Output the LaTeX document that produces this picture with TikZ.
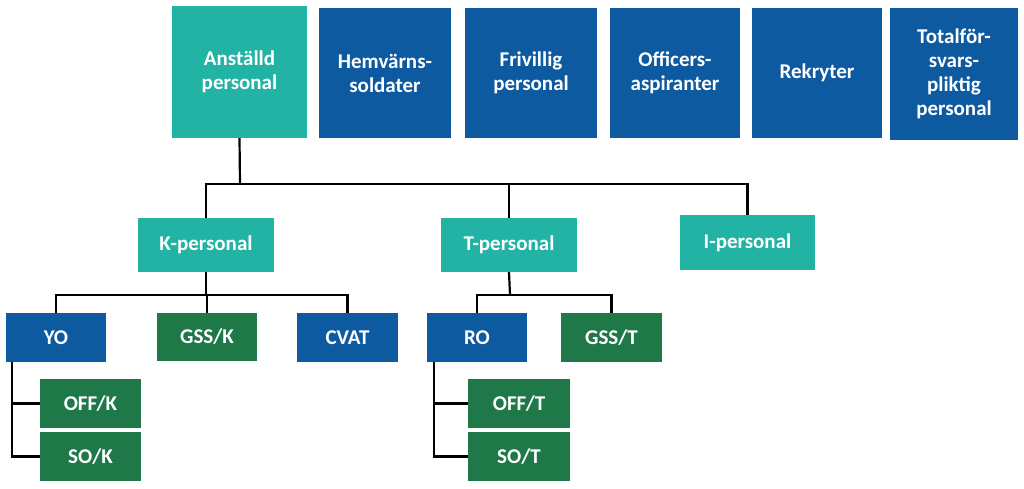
\documentclass[tikz,border=0pt]{standalone}
\usepackage{fontspec}
\setmainfont{Carlito}
\begin{document}
\begin{tikzpicture}[x=1pt,y=-1pt,
 bx/.style={draw=none,text=white,font=\bfseries\fontsize{21}{24}\selectfont,align=center,inner sep=0pt},
 teal/.style={bx,fill=tealc},
 blue/.style={bx,fill=bluec},
 green/.style={bx,fill=greenc},
 ln/.style={draw=black,line width=2.2pt}]
\definecolor{tealc}{HTML}{22B3A4}
\definecolor{bluec}{HTML}{0E5AA0}
\definecolor{greenc}{HTML}{1E7848}
\useasboundingbox (0,0) rectangle (1024,489);
\newcommand{\bxx}[7]{\node[#1,minimum width=#4-#2,minimum height=#5-#3] (#6) at ({(#2+#4)/2},{(#3+#5)/2}) {#7};}
\bxx{teal}{172}{6}{307}{138}{anst}{Anställd\\personal}
\bxx{blue}{319}{8}{451}{138}{hv}{Hemvärns-\\soldater}
\bxx{blue}{465}{8}{597}{138}{fr}{Frivillig\\personal}
\bxx{blue}{610}{8}{740}{138}{oa}{Officers-\\aspiranter}
\bxx{blue}{752}{8}{882}{138}{rek}{Rekryter}
\bxx{blue}{890}{8}{1018}{140}{tfp}{Totalför-\\svars-\\pliktig\\personal}
\bxx{teal}{138}{218}{274}{272}{kp}{K-personal}
\bxx{teal}{441}{218}{577}{272}{tp}{T-personal}
\bxx{teal}{680}{215}{815}{270}{ip}{I-personal}
\bxx{blue}{6}{313}{106}{362}{yo}{YO}
\bxx{green}{157}{313}{257}{361}{gssk}{GSS/K}
\bxx{blue}{297}{313}{398}{362}{cvat}{CVAT}
\bxx{blue}{427}{313}{527}{362}{ro}{RO}
\bxx{green}{561}{313}{662}{362}{gsst}{GSS/T}
\bxx{green}{40}{379}{141}{428}{offk}{OFF/K}
\bxx{green}{40}{432}{141}{481}{sok}{SO/K}
\bxx{green}{468}{379}{570}{428}{offt}{OFF/T}
\bxx{green}{468}{432}{570}{481}{sot}{SO/T}
\coordinate (b1) at (240,184);
\draw[ln] (anst.south) -- (b1);
\draw[ln] (kp.north) |- (b1) (tp.north) |- (b1) (ip.north) |- (b1);
\coordinate (b2) at (206,295);
\draw[ln] (kp.south) -- (b2);
\draw[ln] (yo.north) |- (b2) (gssk.north) |- (b2) (cvat.north) |- (b2);
\coordinate (b3) at (510,295);
\draw[ln] (tp.south) -- (b3);
\draw[ln] (ro.north) |- (b3) (gsst.north) |- (b3);
\draw[ln] (12,362) |- (offk.west) (12,362) |- (sok.west);
\draw[ln] (434,362) |- (offt.west) (434,362) |- (sot.west);
\end{tikzpicture}
\end{document}
